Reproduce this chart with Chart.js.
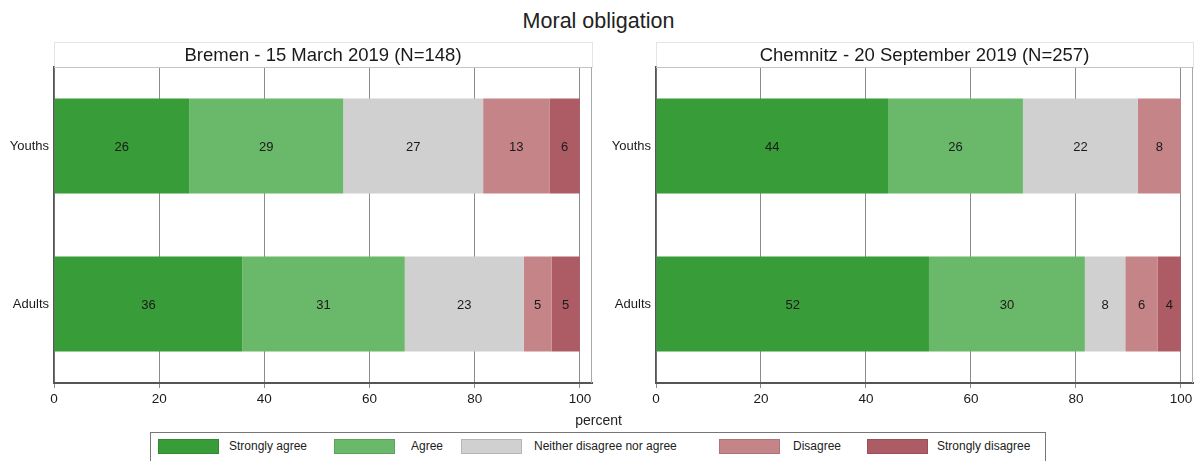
<!DOCTYPE html>
<html>
<head>
<meta charset="utf-8">
<script src="https://cdn.jsdelivr.net/npm/chart.js@4.4.1/dist/chart.umd.min.js"></script>
<style>
  html, body { margin: 0; padding: 0; background: #fff; }
  body { width: 1197px; height: 461px; position: relative; overflow: hidden; font-family: "Liberation Sans", Arial, Helvetica, sans-serif; color: #222; }
  #title { position: absolute; left: 0; width: 1197px; top: 9px; text-align: center; font-size: 21.5px; }
  #xlab { position: absolute; left: 0; width: 1197px; top: 412px; text-align: center; font-size: 14px; }
  canvas { position: absolute; top: 0; }
  #legend { position: absolute; left: 150px; top: 432px; width: 896px; height: 40px; border: 1px solid #777; box-sizing: border-box; }
  .sw { position: absolute; top: 6px; width: 61px; height: 15px; box-sizing: border-box; border: 1px solid rgba(0,0,0,0.12); }
  .lt { position: absolute; top: 6px; font-size: 12px; line-height: 15px; white-space: nowrap; }
</style>
</head>
<body>
<div id="title">Moral obligation</div>
<canvas id="c1" width="600" height="430" style="left:0px"></canvas>
<canvas id="c2" width="597" height="430" style="left:600px"></canvas>
<div id="xlab">percent</div>
<div id="legend"></div>
<script>
// ---- data ----
const categories = ['Youths', 'Adults'];
const seriesNames = ['Strongly agree', 'Agree', 'Neither disagree nor agree', 'Disagree', 'Strongly disagree'];
const seriesColors = ['#389c38', '#6ab86a', '#d0d0d0', '#c48488', '#ad5c66'];
const tickValues = [0, 20, 40, 60, 80, 100];

const panelTitles = ['Bremen - 15 March 2019 (N=148)', 'Chemnitz - 20 September 2019 (N=257)'];

// Bremen: [Youths, Adults]
const bremenStronglyAgree = [25.7, 35.8];
const bremenAgree = [29.3, 30.9];
const bremenNeither = [26.6, 22.6];
const bremenDisagree = [12.6, 5.3];
const bremenStronglyDisagree = [5.8, 5.4];

// Chemnitz: [Youths, Adults]
const chemnitzStronglyAgree = [44.2, 52.0];
const chemnitzAgree = [25.7, 29.7];
const chemnitzNeither = [21.9, 7.7];
const chemnitzDisagree = [8.2, 6.2];
const chemnitzStronglyDisagree = [0, 4.4];

const bremenSeries = [bremenStronglyAgree, bremenAgree, bremenNeither, bremenDisagree, bremenStronglyDisagree];
const chemnitzSeries = [chemnitzStronglyAgree, chemnitzAgree, chemnitzNeither, chemnitzDisagree, chemnitzStronglyDisagree];

const FONT = '"Liberation Sans", Arial, Helvetica, sans-serif';

const barLabels = {
  id: 'barLabels',
  afterDatasetsDraw(chart) {
    const ctx = chart.ctx;
    ctx.save();
    ctx.font = '13px ' + FONT;
    ctx.fillStyle = '#1a1a1a';
    ctx.textAlign = 'center';
    ctx.textBaseline = 'middle';
    chart.data.datasets.forEach((ds, di) => {
      const meta = chart.getDatasetMeta(di);
      meta.data.forEach((bar, i) => {
        const v = ds.data[i];
        if (!v) return;
        const p = bar.getProps(['x', 'y', 'base'], true);
        ctx.fillText(String(Math.round(v)), (p.x + p.base) / 2, p.y + 1);
      });
    });
    ctx.restore();
  }
};

const frame = {
  id: 'frame',
  beforeDraw(chart) {
    const a = chart.chartArea, ctx = chart.ctx;
    ctx.save();
    ctx.strokeStyle = '#e4e4e4';
    ctx.lineWidth = 1;
    ctx.strokeRect(Math.round(a.left) + 0.5, 42.5, Math.round(a.right - a.left), Math.round(a.top) - 42);
    ctx.restore();
  },
  afterDraw(chart) {
    const a = chart.chartArea, ctx = chart.ctx;
    ctx.save();
    ctx.lineWidth = 1;
    ctx.strokeStyle = '#c4c4c4';
    ctx.beginPath();
    ctx.moveTo(a.left, Math.round(a.top) + 0.5);
    ctx.lineTo(a.right, Math.round(a.top) + 0.5);
    ctx.stroke();
    ctx.strokeStyle = '#a8a8a8';
    ctx.beginPath();
    ctx.moveTo(Math.round(a.right) - 0.5, a.top);
    ctx.lineTo(Math.round(a.right) - 0.5, a.bottom);
    ctx.stroke();
    ctx.restore();
  }
};

function makeChart(id, title, series, yAxisWidth, rightPad) {
  return new Chart(document.getElementById(id), {
    type: 'bar',
    data: {
      labels: categories,
      datasets: series.map((d, i) => ({
        label: seriesNames[i],
        data: d,
        backgroundColor: seriesColors[i],
        borderWidth: 0,
        barPercentage: 0.6,
        categoryPercentage: 1.0
      }))
    },
    options: {
      indexAxis: 'y',
      responsive: false,
      animation: false,
      devicePixelRatio: 1,
      layout: { padding: { left: 0, top: 0, right: rightPad, bottom: 17 } },
      plugins: {
        legend: { display: false },
        tooltip: { enabled: false },
        title: {
          display: true,
          text: title,
          fullSize: false,
          color: '#1a1a1a',
          font: { family: FONT, size: 18.5, weight: 'normal', lineHeight: 1.2 },
          padding: { top: 44.5, bottom: 0.3 }
        }
      },
      scales: {
        x: {
          stacked: true,
          min: 0,
          max: 102.3,
          afterBuildTicks(scale) { scale.ticks = tickValues.map(v => ({ value: v })); },
          afterFit(scale) { scale.height = 30; },
          grid: { color: '#8c8c8c', lineWidth: 1, tickLength: 5, drawOnChartArea: true, drawTicks: true },
          border: { display: true, color: '#555', width: 2 },
          ticks: { color: '#1a1a1a', font: { family: FONT, size: 13.5 }, padding: 3, maxRotation: 0, autoSkip: false }
        },
        y: {
          stacked: true,
          offset: true,
          afterFit(scale) { scale.width = yAxisWidth; },
          grid: { display: false, drawTicks: false },
          border: { display: true, color: '#555', width: 1.5 },
          ticks: { color: '#1a1a1a', font: { family: FONT, size: 13 }, padding: 5 }
        }
      }
    },
    plugins: [frame, barLabels]
  });
}

makeChart('c1', panelTitles[0], bremenSeries, 54, 8);
makeChart('c2', panelTitles[1], chemnitzSeries, 56, 4);

// legend
const legendPos = [[7, 78], [183, 260], [310, 383], [568, 642], [716, 786]];
const leg = document.getElementById('legend');
seriesNames.forEach((n, i) => {
  const s = document.createElement('div');
  s.className = 'sw';
  s.style.left = legendPos[i][0] + 'px';
  s.style.background = seriesColors[i];
  leg.appendChild(s);
  const t = document.createElement('div');
  t.className = 'lt';
  t.style.left = legendPos[i][1] + 'px';
  t.textContent = n;
  leg.appendChild(t);
});
</script>
</body>
</html>
